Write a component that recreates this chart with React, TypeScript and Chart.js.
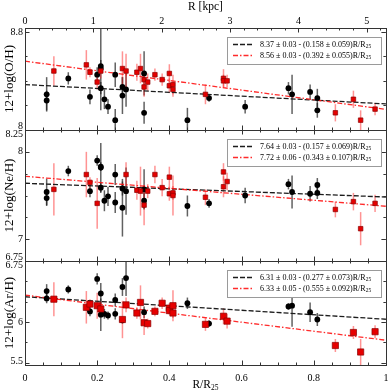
import React, { useEffect, useRef } from 'react';
import { Chart, registerables } from 'chart.js';

Chart.register(...registerables);

const R25_KPC = 5.28;

// ---------- Panel 1: 12+log(O/H) ----------
const ohBlackX = [0.06, 0.06, 0.12, 0.18, 0.20, 0.21, 0.21, 0.21, 0.22, 0.23, 0.25, 0.25, 0.27, 0.27, 0.28, 0.33, 0.33, 0.45, 0.51, 0.61, 0.73, 0.74, 0.79, 0.81, 0.81];
const ohBlackY = [8.29, 8.24, 8.42, 8.27, 8.45, 8.52, 8.50, 8.34, 8.25, 8.19, 8.45, 8.08, 8.35, 8.28, 8.33, 8.46, 8.14, 8.08, 8.26, 8.19, 8.34, 8.29, 8.31, 8.26, 8.16];
const ohBlackErr = [0.14, 0.08, 0.05, 0.06, 0.06, 0.05, 0.34, 0.05, 0.08, 0.06, 0.10, 0.09, 0.08, 0.15, 0.14, 0.18, 0.09, 0.10, 0.03, 0.055, 0.05, 0.16, 0.06, 0.075, 0.06];
const ohRedX = [0.08, 0.17, 0.18, 0.20, 0.21, 0.27, 0.28, 0.31, 0.32, 0.33, 0.33, 0.34, 0.36, 0.38, 0.40, 0.40, 0.41, 0.41, 0.50, 0.55, 0.55, 0.56, 0.86, 0.91, 0.93, 0.97];
const ohRedY = [8.48, 8.53, 8.47, 8.39, 8.48, 8.50, 8.48, 8.47, 8.50, 8.41, 8.35, 8.39, 8.45, 8.41, 8.46, 8.36, 8.37, 8.33, 8.29, 8.42, 8.40, 8.40, 8.14, 8.25, 8.08, 8.17];
const ohRedErr = [0.12, 0.12, 0.04, 0.06, 0.06, 0.14, 0.14, 0.07, 0.12, 0.07, 0.08, 0.07, 0.05, 0.05, 0.075, 0.06, 0.08, 0.06, 0.08, 0.075, 0.05, 0.05, 0.07, 0.07, 0.08, 0.05];
const ohFitBlack = [8.37, 0.158];
const ohFitRed = [8.56, 0.392];
const ohLegend = ['8.37 \u00b1 0.03 - (0.158 \u00b1 0.059)R/R', '8.56 \u00b1 0.03 - (0.392 \u00b1 0.055)R/R'];
const ohYTicks = [8.0, 8.2, 8.4, 8.6, 8.8];
const ohYLabels = ['8', '8.8'];
const ohYLabelValues = [8.0, 8.8];

// ---------- Panel 2: 12+log(Ne/H) ----------
const neBlackX = [0.06, 0.06, 0.12, 0.18, 0.20, 0.21, 0.21, 0.21, 0.22, 0.23, 0.25, 0.25, 0.27, 0.27, 0.28, 0.33, 0.33, 0.45, 0.51, 0.61, 0.73, 0.74, 0.79, 0.81, 0.81];
const neBlackY = [7.54, 7.47, 7.78, 7.55, 7.90, 7.83, 7.82, 7.59, 7.44, 7.49, 7.74, 7.42, 7.58, 7.36, 7.55, 7.57, 7.44, 7.38, 7.41, 7.50, 7.63, 7.54, 7.52, 7.62, 7.53];
const neBlackErr = [0.15, 0.09, 0.06, 0.07, 0.06, 0.05, 0.28, 0.06, 0.12, 0.11, 0.12, 0.12, 0.08, 0.33, 0.27, 0.23, 0.09, 0.12, 0.05, 0.09, 0.06, 0.19, 0.09, 0.08, 0.07];
const neRedX = [0.08, 0.17, 0.18, 0.20, 0.28, 0.31, 0.32, 0.33, 0.34, 0.36, 0.38, 0.40, 0.40, 0.41, 0.41, 0.50, 0.55, 0.55, 0.56, 0.86, 0.91, 0.93, 0.97];
const neRedY = [7.57, 7.74, 7.65, 7.41, 7.74, 7.56, 7.55, 7.39, 7.55, 7.74, 7.59, 7.71, 7.52, 7.53, 7.50, 7.48, 7.77, 7.60, 7.66, 7.34, 7.43, 7.12, 7.41];
const neRedErr = [0.30, 0.26, 0.06, 0.29, 0.14, 0.11, 0.28, 0.23, 0.08, 0.10, 0.10, 0.12, 0.08, 0.08, 0.23, 0.09, 0.10, 0.12, 0.10, 0.09, 0.10, 0.19, 0.10];
const neFitBlack = [7.64, 0.157];
const neFitRed = [7.72, 0.343];
const neLegend = ['7.64 \u00b1 0.03 - (0.157 \u00b1 0.069)R/R', '7.72 \u00b1 0.06 - (0.343 \u00b1 0.107)R/R'];
const neYTicks = [6.75, 7.0, 7.25, 7.5, 7.75, 8.0, 8.25];
const neYLabels = ['8.25', '8', '7', '6.75'];
const neYLabelValues = [8.25, 8.0, 7.0, 6.75];

// ---------- Panel 3: 12+log(Ar/H) ----------
const arBlackX = [0.06, 0.06, 0.12, 0.18, 0.20, 0.21, 0.21, 0.22, 0.23, 0.25, 0.25, 0.27, 0.27, 0.28, 0.33, 0.45, 0.51, 0.73, 0.74, 0.79, 0.81];
const arBlackY = [6.38, 6.29, 6.40, 6.13, 6.53, 6.35, 6.09, 6.10, 6.08, 6.27, 6.10, 6.43, 6.02, 6.54, 6.12, 6.23, 5.98, 6.19, 6.20, 6.12, 6.03];
const arBlackErr = [0.085, 0.06, 0.05, 0.06, 0.07, 0.13, 0.20, 0.06, 0.05, 0.08, 0.07, 0.11, 0.04, 0.22, 0.07, 0.07, 0.04, 0.04, 0.26, 0.12, 0.08];
const arRedX = [0.08, 0.17, 0.18, 0.20, 0.21, 0.27, 0.28, 0.31, 0.32, 0.33, 0.34, 0.36, 0.38, 0.40, 0.40, 0.41, 0.41, 0.50, 0.55, 0.56, 0.86, 0.91, 0.93, 0.97];
const arRedY = [6.28, 6.18, 6.22, 6.20, 6.16, 6.03, 6.21, 6.11, 6.24, 5.99, 5.98, 6.13, 6.23, 6.17, 6.14, 6.20, 6.11, 5.97, 6.07, 6.01, 5.71, 5.87, 5.63, 5.88];
const arRedErr = [0.21, 0.20, 0.06, 0.16, 0.09, 0.23, 0.09, 0.07, 0.21, 0.15, 0.06, 0.06, 0.07, 0.06, 0.05, 0.19, 0.06, 0.08, 0.10, 0.09, 0.08, 0.08, 0.16, 0.08];
const arFitBlack = [6.31, 0.277];
const arFitRed = [6.33, 0.555];
const arLegend = ['6.31 \u00b1 0.03 - (0.277 \u00b1 0.073)R/R', '6.33 \u00b1 0.05 - (0.555 \u00b1 0.092)R/R'];
const arYTicks = [5.5, 5.75, 6.0, 6.25, 6.5, 6.75];
const arYLabels = ['6.75', '6', '5.5'];
const arYLabelValues = [6.75, 6.0, 5.5];

// ---------- shared x axes ----------
const xTickLabels = ['0', '0.2', '0.4', '0.6', '0.8', '1'];
const xTickValues = [0, 0.2, 0.4, 0.6, 0.8, 1.0];
const kpcTickLabels = ['0', '1', '2', '3', '4', '5'];
const kpcTickValues = [0, 1, 2, 3, 4, 5];

const FONT = '"Liberation Serif", "Times New Roman", serif';

export default function App() {
  const ref = useRef<HTMLCanvasElement>(null);

  useEffect(() => {
    const canvas = ref.current;
    if (!canvas) return;

    const panels = [
      { id: 'yOH', title: '12+log(O/H)', min: 8.0, max: 8.83, weight: 102, bx: ohBlackX, by: ohBlackY, be: ohBlackErr, rx: ohRedX, ry: ohRedY, re: ohRedErr, fitB: ohFitBlack, fitR: ohFitRed, legend: ohLegend, ticks: ohYTicks, labels: ohYLabels, labelValues: ohYLabelValues, redR: 3.2 },
      { id: 'yNe', title: '12+log(Ne/H)', min: 6.75, max: 8.25, weight: 131, bx: neBlackX, by: neBlackY, be: neBlackErr, rx: neRedX, ry: neRedY, re: neRedErr, fitB: neFitBlack, fitR: neFitRed, legend: neLegend, ticks: neYTicks, labels: neYLabels, labelValues: neYLabelValues, redR: 3.2 },
      { id: 'yAr', title: '12+log(Ar/H)', min: 5.47, max: 6.75, weight: 104, bx: arBlackX, by: arBlackY, be: arBlackErr, rx: arRedX, ry: arRedY, re: arRedErr, fitB: arFitBlack, fitR: arFitRed, legend: arLegend, ticks: arYTicks, labels: arYLabels, labelValues: arYLabelValues, redR: 4.4 },
    ];

    const datasets: any[] = [];
    const scales: any = {
      x: {
        type: 'linear', position: 'bottom', min: 0, max: 1,
        ticks: { display: false }, grid: { display: false }, border: { display: false },
        afterFit: (s: any) => { s.height = 0; },
      },
      xTop: {
        type: 'linear', position: 'top', min: 0, max: R25_KPC,
        ticks: { display: false }, grid: { display: false }, border: { display: false },
        afterFit: (s: any) => { s.height = 0; },
      },
    };

    // left stacked axes are laid out last-defined-first, so define bottom panel first
    [...panels].reverse().forEach((p) => {
      scales[p.id] = {
        type: 'linear', position: 'left', stack: 'panels', stackWeight: p.weight,
        min: p.min, max: p.max,
        ticks: { display: false }, grid: { display: false }, border: { display: false },
        afterFit: (s: any) => { s.width = 0; },
      };
    });

    panels.forEach((p) => {
      datasets.push({
        type: 'line', label: p.legend[0], xAxisID: 'x', yAxisID: p.id,
        data: [{ x: 0, y: p.fitB[0] }, { x: 1, y: p.fitB[0] - p.fitB[1] }],
        borderColor: '#1c1c1c', borderWidth: 1.3, borderDash: [5, 2], pointRadius: 0, fill: false, order: 10,
      });
      datasets.push({
        type: 'line', label: p.legend[1], xAxisID: 'x', yAxisID: p.id,
        data: [{ x: 0, y: p.fitR[0] }, { x: 1, y: p.fitR[0] - p.fitR[1] }],
        borderColor: 'rgba(255,20,20,0.9)', borderWidth: 1.3, borderDash: [5, 2, 1.5, 2], pointRadius: 0, fill: false, order: 9,
      });
      datasets.push({
        type: 'scatter', label: p.title + ' black', xAxisID: 'x', yAxisID: p.id,
        data: p.bx.map((x, i) => ({ x, y: p.by[i] })),
        pointStyle: 'circle', pointRadius: 2.9, backgroundColor: '#000', borderColor: '#000', borderWidth: 0, order: 2,
      });
      datasets.push({
        type: 'scatter', label: p.title + ' red', xAxisID: 'x', yAxisID: p.id,
        data: p.rx.map((x, i) => ({ x, y: p.ry[i] })),
        pointStyle: 'rect', pointRadius: p.redR, backgroundColor: '#e60000', borderColor: '#8a0000', borderWidth: 0.7, order: 1,
      });
    });

    const errorBars = {
      id: 'errorBars',
      beforeDatasetsDraw(chart: any) {
        const ctx = chart.ctx;
        const xs = chart.scales.x;
        const ca = chart.chartArea;
        panels.forEach((p) => {
          const ys = chart.scales[p.id];
          ctx.save();
          ctx.beginPath();
          ctx.rect(ca.left, ys.top, ca.right - ca.left, ys.bottom - ys.top);
          ctx.clip();
          ctx.lineWidth = 1.5;
          const draw = (X: number[], Y: number[], E: number[], color: string) => {
            ctx.strokeStyle = color;
            X.forEach((x, i) => {
              const px = xs.getPixelForValue(x);
              ctx.beginPath();
              ctx.moveTo(px, ys.getPixelForValue(Y[i] - E[i]));
              ctx.lineTo(px, ys.getPixelForValue(Y[i] + E[i]));
              ctx.stroke();
            });
          };
          draw(p.bx, p.by, p.be, 'rgba(30,30,30,0.7)');
          draw(p.rx, p.ry, p.re, 'rgba(255,40,40,0.5)');
          ctx.restore();
        });
      },
    };

    const frame = {
      id: 'frame',
      afterDraw(chart: any) {
        const ctx = chart.ctx;
        const ca = chart.chartArea;
        const xs = chart.scales.x;
        const xt = chart.scales.xTop;
        const L = ca.left, R = ca.right;
        ctx.save();
        ctx.strokeStyle = '#333';
        ctx.lineWidth = 1;
        ctx.fillStyle = '#000';

        panels.forEach((p, pi) => {
          const ys = chart.scales[p.id];
          const T = ys.top, B = ys.bottom;
          p.ticks.forEach((v) => {
            const py = Math.round(ys.getPixelForValue(v)) + 0.5;
            const major = p.labelValues.some((lv) => Math.abs(lv - v) < 1e-6);
            const len = major ? 4.5 : 2.5;
            ctx.beginPath();
            ctx.moveTo(L, py); ctx.lineTo(L + len, py);
            ctx.moveTo(R, py); ctx.lineTo(R - len, py);
            ctx.stroke();
          });
          for (let k = 0; k <= 20; k++) {
            const v = k * 0.05;
            const px = Math.round(xs.getPixelForValue(v)) + 0.5;
            const len = k % 4 === 0 ? 4.5 : 2.5;
            ctx.beginPath();
            ctx.moveTo(px, B); ctx.lineTo(px, B - len);
            if (pi > 0) { ctx.moveTo(px, T); ctx.lineTo(px, T + len); }
            ctx.stroke();
          }
          if (pi === 0) {
            for (let k = 0; k * 0.2 <= R25_KPC + 1e-6; k++) {
              const v = k * 0.2;
              const px = Math.round(xt.getPixelForValue(v)) + 0.5;
              const len = k % 5 === 0 ? 4.5 : 2.5;
              ctx.beginPath();
              ctx.moveTo(px, T); ctx.lineTo(px, T + len);
              ctx.stroke();
            }
          }
          ctx.strokeRect(Math.round(L) + 0.5, Math.round(T) + 0.5, Math.round(R - L), Math.round(B - T));

          ctx.font = '10px ' + FONT;
          ctx.textAlign = 'right';
          ctx.textBaseline = 'middle';
          p.labelValues.forEach((v, i) => {
            let py = ys.getPixelForValue(v);
            py = Math.min(Math.max(py, T + 4), B - 4);
            ctx.fillText(p.labels[i], L - 2, py);
          });

          ctx.save();
          ctx.translate(10, (T + B) / 2);
          ctx.rotate(-Math.PI / 2);
          ctx.textAlign = 'center';
          ctx.textBaseline = 'middle';
          ctx.font = '13px ' + FONT;
          ctx.fillText(p.title, 0, 0);
          ctx.restore();

          const bx0 = L + 201.5, bx1 = L + 355.5;
          const by0 = T + 9, bh = 27;
          ctx.fillStyle = '#fff';
          ctx.fillRect(bx0, by0, bx1 - bx0, bh);
          ctx.strokeStyle = '#9a9a9a';
          ctx.strokeRect(Math.round(bx0) + 0.5, Math.round(by0) + 0.5, Math.round(bx1 - bx0), bh);
          const rows = [
            { y: by0 + 7.5, color: '#1c1c1c', dash: [5, 2] },
            { y: by0 + 18.5, color: 'rgba(255,20,20,0.9)', dash: [5, 2, 1.5, 2] },
          ];
          rows.forEach((r, i) => {
            ctx.save();
            ctx.strokeStyle = r.color;
            ctx.lineWidth = 1.3;
            ctx.setLineDash(r.dash);
            ctx.beginPath();
            ctx.moveTo(L + 208, r.y); ctx.lineTo(L + 228, r.y);
            ctx.stroke();
            ctx.restore();
            ctx.fillStyle = '#000';
            ctx.textAlign = 'left';
            ctx.textBaseline = 'middle';
            ctx.font = '8px ' + FONT;
            const tx = L + 235;
            ctx.fillText(p.legend[i], tx, r.y);
            const w = ctx.measureText(p.legend[i]).width;
            ctx.font = '5.5px ' + FONT;
            ctx.fillText('25', tx + w, r.y + 2.5);
          });
          ctx.strokeStyle = '#333';
          ctx.fillStyle = '#000';
        });

        const bottom = chart.scales[panels[2].id].bottom;
        const top = chart.scales[panels[0].id].top;
        ctx.font = '10px ' + FONT;
        ctx.textAlign = 'center';
        ctx.textBaseline = 'middle';
        xTickValues.forEach((v, i) => {
          ctx.fillText(xTickLabels[i], xs.getPixelForValue(v), bottom + 13);
        });
        kpcTickValues.forEach((v, i) => {
          ctx.fillText(kpcTickLabels[i], xt.getPixelForValue(v), top - 7);
        });
        ctx.font = '11.5px ' + FONT;
        ctx.fillText('R [kpc]', (L + R) / 2, 7);
        const mainTxt = 'R/R';
        const mw = ctx.measureText(mainTxt).width;
        ctx.font = '7.5px ' + FONT;
        const sw = ctx.measureText('25').width;
        const cx = (L + R) / 2 - (mw + sw) / 2;
        ctx.textAlign = 'left';
        ctx.font = '11.5px ' + FONT;
        ctx.fillText(mainTxt, cx, 385);
        ctx.font = '7.5px ' + FONT;
        ctx.fillText('25', cx + mw, 388.5);
        ctx.restore();
      },
    };

    const chart = new Chart(canvas, {
      type: 'scatter',
      data: { datasets },
      options: {
        responsive: false,
        animation: false,
        devicePixelRatio: 1,
        layout: { padding: { left: 25, right: 1.5, top: 28, bottom: 26 } },
        plugins: { legend: { display: false }, tooltip: { enabled: false }, title: { display: false } },
        scales,
      },
      plugins: [errorBars, frame],
    } as any);

    return () => chart.destroy();
  }, []);

  return (
    <div style={{ position: 'fixed', left: 0, top: 0, width: 391, height: 391, background: '#fff' }}>
      <canvas ref={ref} width={391} height={391} style={{ display: 'block', width: 391, height: 391 }} />
    </div>
  );
}
